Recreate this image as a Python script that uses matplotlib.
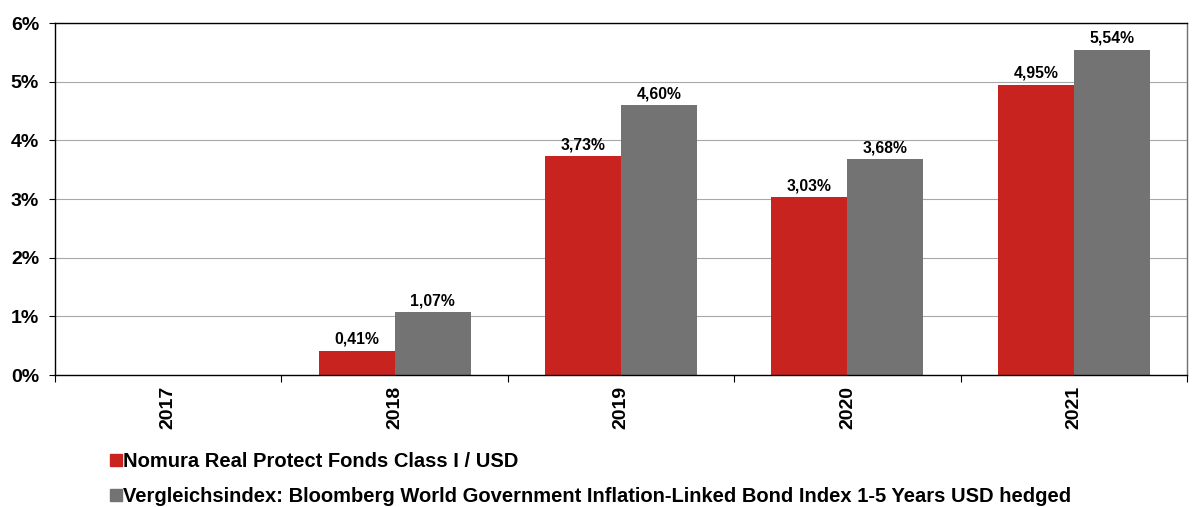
import matplotlib
matplotlib.use("Agg")
import matplotlib.pyplot as plt
from matplotlib.patches import Patch
import numpy as np

plt.rcParams['font.family'] = ['Liberation Sans', 'DejaVu Sans']
plt.rcParams['font.weight'] = 'bold'

years = ["2017", "2018", "2019", "2020", "2021"]
fund = [np.nan, 0.41, 3.73, 3.03, 4.95]
index = [np.nan, 1.07, 4.60, 3.68, 5.54]
fund_name = "Nomura Real Protect Fonds Class I / USD"
index_name = "Vergleichsindex: Bloomberg World Government Inflation-Linked Bond Index 1-5 Years USD hedged"
red = "#C8231F"
gray = "#737373"

fig = plt.figure(figsize=(11.95, 5.07), dpi=100)
ax = fig.add_axes([55/1195, 1-375/507, (1187-55)/1195, (375-23)/507])

x = np.arange(len(years))
w = 0.336
ax.bar(x - w/2, fund, w, color=red, zorder=2)
ax.bar(x + w/2, index, w, color=gray, zorder=2)

def fmt(v):
    return f"{v:.2f}%".replace(".", ",")

for xs, vals in ((x - w/2, fund), (x + w/2, index)):
    for xi, v in zip(xs, vals):
        if not np.isnan(v):
            ax.annotate(fmt(v), (xi, v), xytext=(0, 4), textcoords='offset pixels',
                        ha='center', va='bottom', fontsize=11.3, fontweight='bold')

ax.set_xlim(-0.5, len(years) - 0.5)
ax.set_ylim(0, 6)
ax.set_yticks(range(0, 7))
ax.set_yticklabels([f"{i}%" for i in range(0, 7)], fontsize=14, fontweight='bold')
ax.yaxis.grid(True, color='#A8A8A8', linewidth=0.8, zorder=0)
ax.set_axisbelow(True)
ax.set_xticks(np.arange(-0.5, len(years), 1))
ax.set_xticklabels([])
ax.set_xticks(x, minor=True)
ax.set_xticklabels(years, minor=True, rotation=90, fontsize=14, fontweight='bold')
ax.tick_params(axis='x', which='minor', length=0, pad=8)
ax.tick_params(axis='x', which='major', length=5, direction='out', color='black')
ax.tick_params(axis='y', length=4.5, direction='out', pad=7)
for s in ax.spines.values():
    s.set_color('black')
    s.set_linewidth(1.0)
ax.spines['right'].set_color('#707070')

handles = [Patch(color=red, label=fund_name), Patch(color=gray, label=index_name)]
fig.legend(handles=handles, loc='upper left', bbox_to_anchor=(110/1195, 1-452/507),
           frameon=False, handlelength=0.6, handleheight=0.6, borderpad=0, borderaxespad=0,
           handletextpad=0.05, labelspacing=0.8, prop={'weight': 'bold', 'size': 14.5})

fig.savefig("out.png", dpi=100)
